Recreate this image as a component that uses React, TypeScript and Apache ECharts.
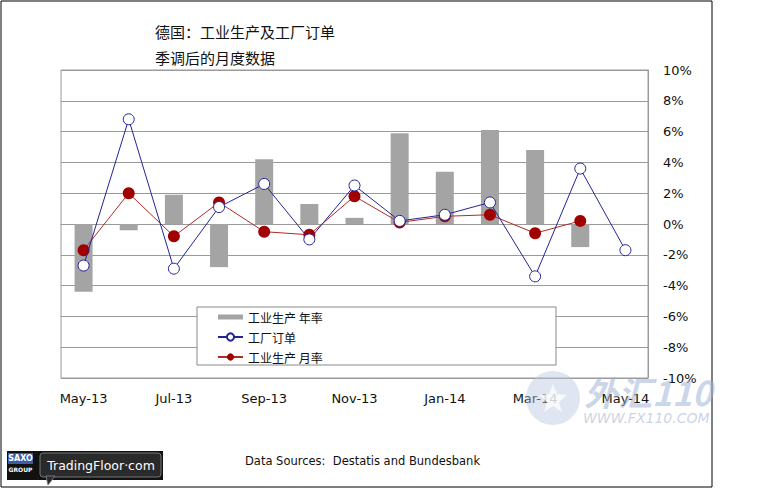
import React, { useEffect, useRef } from "react";
import * as echarts from "echarts";

const categories = ["May-13", "Jun-13", "Jul-13", "Aug-13", "Sep-13", "Oct-13", "Nov-13", "Dec-13", "Jan-14", "Feb-14", "Mar-14", "Apr-14", "May-14"];
const ipYoY: (number | null)[] = [-4.4, -0.4, 1.9, -2.8, 4.2, 1.3, 0.4, 5.9, 3.4, 6.1, 4.8, -1.5, null];
const factoryOrders: (number | null)[] = [-2.7, 6.8, -2.9, 1.1, 2.6, -1.0, 2.5, 0.2, 0.6, 1.4, -3.4, 3.6, -1.7];
const ipMoM: (number | null)[] = [-1.7, 2.0, -0.8, 1.4, -0.5, -0.7, 1.8, 0.1, 0.5, 0.6, -0.6, 0.2, null];

const seriesNames = ["工业生产 年率", "工厂订单", "工业生产 月率"];
const titleText = "德国：工业生产及工厂订单";
const subtitleText = "季调后的月度数据";
const sourceText = "Data Sources:  Destatis and Bundesbank";

export default function App() {
  const ref = useRef<HTMLDivElement>(null);
  useEffect(() => {
    document.body.style.margin = "0";
    const chart = echarts.init(ref.current!, null, { renderer: "svg" });
    const latin = "DejaVu Sans";
    const cjk = "Noto Sans CJK SC";
    chart.setOption({
      animation: false,
      backgroundColor: "#ffffff",
      grid: { left: 61, top: 70, right: 133, bottom: 111, show: true, borderColor: "#9a9a9a", borderWidth: 1 },
      xAxis: {
        type: "category",
        data: categories,
        boundaryGap: true,
        axisLine: { show: true, lineStyle: { color: "#9a9a9a" } },
        axisTick: { show: false },
        axisLabel: { interval: 1, color: "#111", fontFamily: latin, fontSize: 13, margin: 14 },
        splitLine: { show: false },
      },
      yAxis: {
        type: "value",
        position: "right",
        min: -10,
        max: 10,
        interval: 2,
        axisLine: { show: true, lineStyle: { color: "#9a9a9a" } },
        axisTick: { show: false },
        axisLabel: { formatter: "{value}%", color: "#111", fontFamily: latin, fontSize: 13, margin: 15 },
        splitLine: { show: true, lineStyle: { color: "#9a9a9a", width: 1 } },
      },
      legend: {
        orient: "vertical",
        left: 197,
        top: 307,
        padding: [4, 0, 0, 20],
        itemWidth: 25,
        itemHeight: 9,
        itemGap: 8,
        z: 6,
        textStyle: { fontFamily: cjk, fontSize: 12, color: "#111" },
        data: [
          { name: seriesNames[0], icon: "path://M0,0H25V5H0Z" },
          { name: seriesNames[1] },
          { name: seriesNames[2] },
        ],
      },
      graphic: [
        { type: "rect", z: 3, shape: { x: 197, y: 307, width: 359, height: 58 }, style: { fill: "#fff", stroke: "#8a8a8a", lineWidth: 1 } },
        { type: "rect", z: 1, shape: { x: 1, y: 1, width: 711, height: 486 }, style: { fill: "none", stroke: "#000", lineWidth: 1 } },
        { type: "text", x: 155, y: 31, style: { text: titleText, font: `15px "${cjk}"`, fill: "#111", textVerticalAlign: "middle" } },
        { type: "text", x: 155, y: 57, style: { text: subtitleText, font: `15px "${cjk}"`, fill: "#111", textVerticalAlign: "middle" } },
        { type: "text", x: 245, y: 461, style: { text: sourceText, font: `11.5px "${latin}"`, fill: "#111", textVerticalAlign: "middle" } },
        // logo
        { type: "rect", shape: { x: 7, y: 451, width: 156, height: 29 }, style: { fill: "#111" } },
        { type: "rect", shape: { x: 8, y: 453, width: 25, height: 11 }, style: { fill: "#3a5da8" } },
        { type: "text", x: 20.5, y: 458.5, style: { text: "SAXO", font: `bold 8px "${latin}"`, fill: "#fff", textAlign: "center", textVerticalAlign: "middle" } },
        { type: "text", x: 20.5, y: 469, style: { text: "GROUP", font: `bold 6px "${latin}"`, fill: "#fff", textAlign: "center", textVerticalAlign: "middle" } },
        { type: "rect", shape: { x: 40, y: 453, width: 121, height: 24, r: 3 }, style: { fill: "#2a2a2a", stroke: "#777", lineWidth: 1 } },
        { type: "polygon", shape: { points: [[46, 476], [48, 485], [55, 476]] }, style: { fill: "#2a2a2a", stroke: "#777", lineWidth: 1 } },
        { type: "text", x: 101, y: 465, style: { text: "TradingFloor·com", font: `12.5px "${latin}"`, fill: "#fff", textAlign: "center", textVerticalAlign: "middle" } },
        // watermark
        { type: "circle", z: 20, shape: { cx: 553, cy: 398, r: 27 }, style: { fill: "#b9c7e0", opacity: 0.45 } },
        { type: "polygon", z: 20, shape: { points: [[553, 384], [557, 394], [567, 395], [559, 402], [562, 412], [553, 406], [544, 412], [547, 402], [539, 395], [549, 394]] }, style: { fill: "#ffffff", opacity: 0.7 } },
        { type: "text", z: 20, x: 584, y: 391, style: { text: "外汇110", font: `italic bold 34px "${cjk}"`, fill: "#9fb2d6", textVerticalAlign: "middle", opacity: 0.55 } },
        { type: "text", z: 20, x: 583, y: 418, style: { text: "WWW.FX110.COM", font: `italic 14px "${latin}"`, fill: "#a7b6d4", textVerticalAlign: "middle", opacity: 0.6 } },
      ],
      series: [
        {
          name: seriesNames[0],
          type: "bar",
          data: ipYoY,
          barWidth: 18,
          itemStyle: { color: "#a4a4a4" },
          z: 2,
        },
        {
          name: seriesNames[2],
          type: "line",
          data: ipMoM,
          symbol: "circle",
          symbolSize: 12,
          lineStyle: { color: "#b32a2a", width: 1 },
          itemStyle: { color: "#a00000" },
          z: 3,
        },
        {
          name: seriesNames[1],
          type: "line",
          data: factoryOrders,
          symbol: "circle",
          symbolSize: 11,
          showAllSymbol: true,
          lineStyle: { color: "#23239a", width: 1 },
          itemStyle: { color: "#ffffff", borderColor: "#23239a", borderWidth: 1 },
          z: 4,
        },
      ],
    });
    return () => chart.dispose();
  }, []);
  return <div ref={ref} style={{ width: 781, height: 489 }} />;
}
